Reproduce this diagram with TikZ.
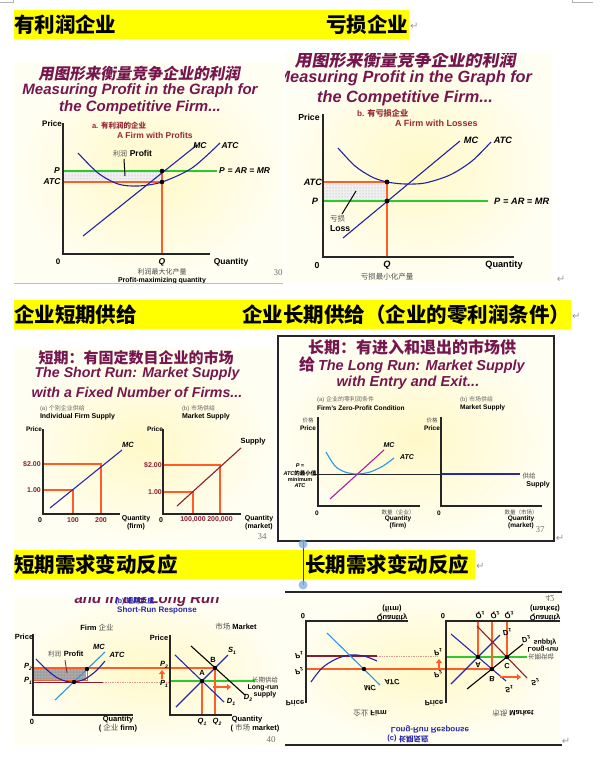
\documentclass[tikz,border=0pt]{standalone}
\usepackage{fontspec}
\setmainfont{Liberation Sans}
\newfontfamily\cjk{Noto Sans CJK SC}
\newfontfamily\cjkit[FakeSlant=0.18]{Noto Sans CJK SC}
\newfontfamily\tms{Liberation Serif}
\newfontfamily\dv{DejaVu Sans}
\usetikzlibrary{patterns,arrows.meta}
\newcommand{\fs}[1]{\fontsize{#1}{#1}\selectfont}
\newcommand{\sbx}[2]{#1\raisebox{-0.22em}{\fontsize{5}{5}\selectfont #2}}
\definecolor{hl}{RGB}{255,255,0}
\definecolor{ttl}{RGB}{118,22,78}
\definecolor{subc}{RGB}{150,42,52}
\definecolor{org}{RGB}{255,92,40}
\definecolor{grn}{RGB}{45,200,45}
\definecolor{dblue}{RGB}{35,35,165}
\definecolor{lblue}{RGB}{40,150,235}
\definecolor{dred}{RGB}{140,28,50}
\definecolor{purp}{RGB}{170,30,160}
\definecolor{bgin}{RGB}{255,249,200}
\definecolor{bgout}{RGB}{255,254,242}
\definecolor{rblue}{RGB}{40,40,175}
\definecolor{pinkd}{RGB}{225,150,150}
\tikzset{
 tx/.style={inner sep=0pt, outer sep=0pt},
 hdr/.style={tx, font=\cjk\bfseries\fs{20.5}},
 ttlA/.style={tx, text=ttl, font=\bfseries\itshape\fs{#1}},
 ttlC/.style={tx, text=ttl, font=\cjkit\bfseries\fs{#1}},
 ttlU/.style={tx, text=ttl, font=\cjk\bfseries\fs{#1}},
 lb/.style={tx, font=\bfseries\fs{#1}},
 lbi/.style={tx, font=\bfseries\itshape\fs{#1}},
 lbr/.style={tx, text=dred, font=\bfseries\fs{#1}},
 ck/.style={tx, font=\cjk\fs{#1}, text=black!70},
 ax/.style={line width=1.1pt, black!85},
 ln/.style={line width=1.1pt},
 panelbg/.style={inner color=bgin, outer color=bgout},
 vflip/.style={yscale=-1},
 pg/.style={tx, font=\tms\fs{9}, text=black!55},
 ret/.style={tx, font=\dv\fs{10}, text=black!40},
 oarrow/.style={org, line width=2.2pt, -{Triangle[length=4pt,width=6pt]}},
 lossfill/.style={pattern=dots, pattern color=gray!70},
}
\begin{document}
\begin{tikzpicture}[x=1pt,y=-1pt]
\useasboundingbox (0,0) rectangle (605,761);
\fill[white] (0,0) rectangle (605,761);
% corner marks
\draw[gray!60, line width=0.6pt] (0,2) -- (13,2) -- (13,0);
\draw[gray!60, line width=0.6pt] (572,0) -- (572,2) -- (593,2);
% ---------- headers ----------
\fill[hl] (14,10) rectangle (409,39);
\node[hdr, anchor=west] (h1a) at (14,24.5) {有利润企业};
\node[hdr, anchor=east] (h1b) at (408,24.5) {亏损企业};
\node[ret, anchor=west] (h1r) at (410,26) {↵};
\fill[hl] (14,300) rectangle (571,329);
\node[hdr, anchor=west] (h2a) at (14,314.5) {企业短期供给};
\node[hdr, anchor=east] (h2b) at (570,314.5) {企业长期供给（企业的零利润条件）};
\node[ret, anchor=west] (h2r) at (572,316) {↵};
\fill[hl] (14,550) rectangle (475,579);
\node[hdr, anchor=west] (h3a) at (14,564.5) {短期需求变动反应};
\node[hdr, anchor=west] (h3b) at (305,564.5) {长期需求变动反应};
\node[ret, anchor=west] (h3r) at (476,566) {↵};
% ---------- panel 1 ----------
\begin{scope}
\clip (14,62) rectangle (283,283);
\fill[panelbg] (14,62) rectangle (283,283);
\node[ttlC=15.5] (p1a) at (139,74) {用图形来衡量竞争企业的利润};
\node[ttlA=15] (p1b) at (140,91) {Measuring Profit in the Graph for};
\node[ttlA=15] (p1c) at (140,108) {the Competitive Firm...};
\fill[gray!12] (63,171) rectangle (162,182);
\fill[lossfill] (63,171) rectangle (162,182);
\draw[grn, ln] (63,171) -- (217,171);
\draw[org, ln] (63,182) -- (162,182);
\draw[org, ln] (162,171) -- (162,254);
\draw[dblue, ln] plot[smooth] coordinates {(78,153) (98,173) (118,184) (138,186) (162,182) (192,168) (220,143)};
\draw[dblue, ln] (83,236) -- (197,145);
\draw[ax] (63,123) -- (63,254) -- (210,254);
\fill (162,171) circle (2.3);
\fill (162,182) circle (2.3);
\draw[black, line width=1pt] (124,159) -- (125,176);
\node[lb=8] (p1pr) at (52,124) {Price};
\node[tx, text=subc, font=\bfseries\fs{7.5}, anchor=west] (p1s1) at (92,126) {a. {\cjk 有利润的企业}};
\node[tx, text=subc, font=\bfseries\fs{8.5}, anchor=west] (p1s2) at (117,135) {A Firm with Profits};
\node[lbi=8.5] (p1P) at (57,171) {P};
\node[lbi=8.5] (p1A) at (52,182) {ATC};
\node[lbi=8.5, anchor=west] (p1E) at (219,171) {P\,\,= AR = MR};
\node[lbi=8.5] (p1mc) at (200,146) {MC};
\node[lbi=8.5] (p1atc) at (230,146) {ATC};
\node[tx, anchor=west] (p1pf) at (113,154) {{\cjk\fs{7}\color{black!70}利润} {\bfseries\fs{8.5}Profit}};
\node[lb=8] (p1o) at (58,262) {0};
\node[lbi=8.5] (p1q) at (162,262) {Q};
\node[lb=8.5] (p1qt) at (231,262) {Quantity};
\node[ck=7] (p1c1) at (162,272) {利润最大化产量};
\node[lb=7] (p1c2) at (162,280.5) {Profit-maximizing quantity};
\node[pg] (p1n) at (278,273) {30};
\end{scope}
\draw[gray!50, line width=1pt] (14,283) -- (283,283);
% ---------- panel 2 ----------
\begin{scope}
\clip (285,53) rectangle (552,282);
\fill[panelbg] (285,53) rectangle (552,282);
\node[ttlC=17] (p2a) at (405,60) {用图形来衡量竞争企业的利润};
\node[ttlA=16.3, anchor=east] (p2b) at (532,78) {Measuring Profit in the Graph for};
\node[ttlA=16.3] (p2c) at (405,98) {the Competitive Firm...};
\fill[gray!12] (323,182) rectangle (387,201);
\fill[lossfill] (323,182) rectangle (387,201);
\draw[org, ln] (323,182) -- (387,182) -- (387,257);
\draw[grn, ln] (323,201) -- (488,201);
\draw[dblue, ln] plot[smooth] coordinates {(338,148) (355,166) (372,177) (387,182) (405,184) (425,183) (450,175) (472,161) (491,142)};
\draw[dblue, ln] (343,238) -- (460,141);
\draw[ax] (323,114) -- (323,257) -- (514,257);
\fill (387,182) circle (2.4);
\fill (387,201) circle (2.4);
\draw[black, line width=1pt] (356,191) -- (342,214);
\node[lb=8.7] (p2pr) at (309,117) {Price};
\node[tx, text=subc, font=\bfseries\fs{8.2}, anchor=west] (p2s1) at (357,113) {b. {\cjk 有亏损企业}};
\node[tx, text=subc, font=\bfseries\fs{9}, anchor=west] (p2s2) at (395,123) {A Firm with Losses};
\node[lbi=9.2] (p2mc) at (471,140) {MC};
\node[lbi=9.2] (p2atc) at (503,140) {ATC};
\node[lbi=9.2, anchor=east] (p2A) at (322,182) {ATC};
\node[lbi=9.2] (p2P) at (315,201) {P};
\node[lbi=9.2, anchor=west] (p2E) at (494,201) {P\,\,= AR = MR};
\node[ck=7.5, anchor=west] (p2l1) at (330,219) {亏损};
\node[lb=8.7, anchor=west] (p2l2) at (330,229) {Loss};
\node[lb=8.7] (p2o) at (317,265) {0};
\node[lbi=9.2] (p2q) at (387,265) {Q};
\node[lb=9.2] (p2qt) at (504,265) {Quantity};
\node[ck=7.5] (p2c1) at (387,277) {亏损最小化产量};
\end{scope}
\node[ret] (p2r) at (561,279) {↵};
% ---------- panel 3 ----------
\fill[panelbg] (14,348) rectangle (273,542);
\node[ttlU=15] (p3a) at (136,358) {短期：有固定数目企业的市场};
\node[ttlA=14.2] (p3b) at (137,374) {The Short Run: Market Supply};
\node[ttlA=14.2] (p3c) at (137,392) {with a Fixed Number of Firms...};
\node[tx, anchor=west, font=\fs{6}, text=black!60] (p3s1) at (40,409) {(a) {\cjk 个别企业供给}};
\node[lb=7, anchor=west] (p3s2) at (40,417) {Individual Firm Supply};
\node[tx, anchor=west, font=\fs{6}, text=black!60] (p3s3) at (182,409) {(b) {\cjk 市场供给}};
\node[lb=7, anchor=west] (p3s4) at (182,417) {Market Supply};
\draw[org, ln] (43,464) -- (101,464) -- (101,514);
\draw[org, ln] (43,490) -- (73,490) -- (73,514);
\draw[rblue, ln] (50,508) -- (122,450);
\draw[ax] (43,429) -- (43,514) -- (120,514);
\node[lb=6.5] (p3pr) at (34,429) {Price};
\node[lbr=7] (p3y2) at (32,464) {\$2.00};
\node[lbr=7] (p3y1) at (34,490) {1.00};
\node[lbi=7.5] (p3mc) at (128,445) {MC};
\node[lb=7] (p3o) at (40,520) {0};
\node[lbr=7] (p3x1) at (73,520) {100};
\node[lbr=7] (p3x2) at (101,520) {200};
\node[lb=7] (p3q1) at (136,519) {Quantity};
\node[lb=7] (p3q2) at (136,527) {(firm)};
\draw[org, ln] (163,465) -- (220,465) -- (220,514);
\draw[org, ln] (163,492) -- (193,492) -- (193,514);
\draw[dred, ln] (177,506) -- (241,448);
\draw[ax] (163,429) -- (163,514) -- (241,514);
\node[lb=6.5] (p3pr2) at (155,429) {Price};
\node[lbr=7] (p3y3) at (153,465) {\$2.00};
\node[lbr=7] (p3y4) at (155,492) {1.00};
\node[lb=7.5] (p3sup) at (253,442) {Supply};
\node[lb=7] (p3o2) at (161,520) {0};
\node[lbr=7] (p3x3) at (193,520) {100,000};
\node[lbr=7] (p3x4) at (220,520) {200,000};
\node[lb=7] (p3q3) at (259,519) {Quantity};
\node[lb=7] (p3q4) at (259,527) {(market)};
\node[pg] (p3n) at (262,537) {34};
% ---------- panel 4 ----------
\fill[panelbg] (278,336) rectangle (554,541);
\node[ttlU=16] (p4a) at (412,347) {长期：有进入和退出的市场供};
\node[tx, text=ttl] (p4b) at (412,365) {{\cjk\bfseries\fs{16}给} {\bfseries\itshape\fs{14.5}The Long Run: Market Supply}};
\node[ttlA=14.5] (p4c) at (408,383) {with Entry and Exit...};
\node[tx, anchor=west, font=\fs{6}, text=black!60] (p4s1) at (317,400) {(a) {\cjk 企业的零利润条件}};
\node[lb=6.6, anchor=west] (p4s2) at (317,408) {Firm's Zero-Profit Condition};
\node[tx, anchor=west, font=\fs{6}, text=black!60] (p4s3) at (460,400) {(b) {\cjk 市场供给}};
\node[lb=6.6, anchor=west] (p4s4) at (460,408) {Market Supply};
\draw[black!85, line width=1pt] (314,474) -- (441,474);
\draw[rblue, ln] (441,474) -- (520,474);
\draw[lblue, ln] plot[smooth] coordinates {(326,452) (335,466) (345,472) (357,474) (370,472) (383,466) (394,458)};
\draw[purp, ln] (330,499) -- (384,450);
\draw[ax] (318,417) -- (318,506) -- (420,506);
\draw[ax] (441,417) -- (441,506) -- (542,506);
\node[ck=5.5] (p4j1) at (308,420) {价格};
\node[lb=6.5] (p4p1) at (308,428) {Price};
\node[ck=5.5] (p4j2) at (432,420) {价格};
\node[lb=6.5] (p4p2) at (432,428) {Price};
\node[lbi=5.5] (p4e1) at (300,466) {P =};
\node[tx] (p4e2) at (300,473) {{\bfseries\itshape\fs{5.5}ATC}{\cjk\bfseries\fs{5.5}的最小值}};
\node[lb=5.5] (p4e3) at (300,479.5) {minimum};
\node[lbi=5.5] (p4e4) at (300,486) {ATC};
\node[lbi=7] (p4mc) at (389,445) {MC};
\node[lbi=7] (p4atc) at (407,457) {ATC};
\node[lb=6.5] (p4o1) at (317,513) {0};
\node[ck=5.5] (p4q1) at (398,512) {数量（企业）};
\node[lb=6.5] (p4q2) at (398,518.5) {Quantity};
\node[lb=6.5] (p4q3) at (398,525.5) {(firm)};
\node[ck=6.5] (p4g) at (529,476) {供给};
\node[lb=7] (p4sup) at (538,485) {Supply};
\node[lb=6.5] (p4o2) at (439,513) {0};
\node[ck=5.5] (p4q4) at (521,512) {数量（市场）};
\node[lb=6.5] (p4q5) at (521,518.5) {Quantity};
\node[lb=6.5] (p4q6) at (521,525.5) {(market)};
\node[pg] (p4n) at (540,530) {37};
\draw[black!85, line width=2pt] (278,336) rectangle (554,541);
\node[ret] (p4r) at (560,538) {↵};
% handle line
\draw[rblue, line width=0.8pt] (303,541) -- (303,585);
\fill[cyan!60!blue!50, opacity=0.8] (303,544) circle (4.5);
% ---------- panel 5 ----------
\begin{scope}
\clip (14,597) rectangle (285,744);
\fill[panelbg] (14,597) rectangle (285,744);
\node[ttlA=15, anchor=base] (p5t) at (147,603) {and in the Long Run};
\node[tx, text=rblue, font=\bfseries\fs{7}] (p5t2) at (135,601) {(b) {\cjk 短期反应}};
\node[tx, text=rblue, font=\bfseries\fs{8}] (p5t3) at (157,610) {Short-Run Response};
\node[tx, font=\bfseries\fs{7.5}] (p5f) at (97,627) {Firm {\cjk\mdseries\color{black!70}企业}};
\node[tx, font=\bfseries\fs{7.5}] (p5m) at (236,627) {{\cjk\mdseries\color{black!70}市场} Market};
% firm
\fill[gray!75] (34,669) rectangle (86,680);
\fill[pattern=dots, pattern color=white!85!gray] (34,669) rectangle (86,680);
\draw[org, line width=1pt] (33,680.5) -- (87,680.5) -- (87,668);
\draw[org, line width=1.5pt] (33,668) -- (215,668);
\draw[dred, line width=1.2pt] (33,682.5) -- (103,682.5);
\draw[pinkd, densely dotted, line width=0.7pt] (103,682) -- (170,682);
\draw[dblue, ln] plot[smooth] coordinates {(36,659) (46,669) (56,677) (65,681) (74,682) (85,679) (96,671) (105,661)};
\draw[lblue, ln] (55,700) -- (105,652);
\draw[ax] (33,634) -- (33,715) -- (133,715);
\fill (74,682) circle (2.2);
\fill (87,669) circle (2.2);
\draw[dred, line width=0.8pt] (65,660) -- (67,673);
\node[tx, anchor=west] (p5pf) at (48,654) {{\cjk\fs{6.5}\color{black!70}利润} {\bfseries\fs{7.5}Profit}};
\node[lb=7.5] (p5pr) at (24,637) {Price};
\node[lbi=7.5] (p5p2) at (28,667) {\sbx{P}{2}};
\node[lbi=7.5] (p5p1) at (28,681) {\sbx{P}{1}};
\node[lbi=7.5] (p5mc) at (99,647) {MC};
\node[lbi=7.5] (p5atc) at (117,655) {ATC};
\node[lb=7.5] (p5o) at (32,722) {0};
\node[lb=7.5] (p5q1) at (118,720) {Quantity};
\node[tx, font=\bfseries\fs{7.5}] (p5q2) at (118,728) {( {\cjk\mdseries\color{black!70}企业} firm)};
% market
\draw[grn, ln] (170,681) -- (255,681);
\draw[org, ln] (202,681) -- (202,715);
\draw[org, ln] (215,668) -- (215,715);
\draw[rblue, ln] (175,655) -- (224,702);
\draw[black, ln] (191,646) -- (245,695);
\draw[rblue, ln] (176,707) -- (228,655);
\draw[ax] (170,635) -- (170,715) -- (232,715);
\fill (202,681) circle (2.2);
\fill (215,668) circle (2.2);
\draw[oarrow] (162,679) -- (162,670);
\draw[oarrow] (213,687) -- (231,687);
\node[lb=7.5] (p5pr2) at (159,638) {Price};
\node[lbi=7.5] (p5mp2) at (164,665) {\sbx{P}{2}};
\node[lbi=7.5] (p5mp1) at (164,684) {\sbx{P}{1}};
\node[lb=7.5] (p5A) at (202,673) {A};
\node[lb=7.5] (p5B) at (213,660) {B};
\node[lbi=7.5] (p5S1) at (232,651) {\sbx{S}{1}};
\node[lbi=7.5] (p5D1) at (231,702) {\sbx{D}{1}};
\node[lbi=7.5] (p5D2) at (248,698) {\sbx{D}{2}};
\node[lbi=7.5] (p5Q1) at (202,722) {\sbx{Q}{1}};
\node[lbi=7.5] (p5Q2) at (217,722) {\sbx{Q}{2}};
\node[ck=6.5] (p5l1) at (265,680) {长期供给};
\node[lb=7] (p5l2) at (263,688) {Long-run};
\node[lb=7] (p5l3) at (265,695) {supply};
\node[lb=7.5] (p5q3) at (247,720) {Quantity};
\node[tx, font=\bfseries\fs{7.5}] (p5q4) at (255,728) {( {\cjk\mdseries\color{black!70}市场} market)};
\node[pg] (p5n) at (271,740) {40};
\end{scope}
% ---------- panel 6 (mirrored) ----------
\begin{scope}
\clip (285,592) rectangle (562,745);
\fill[panelbg] (285,593) rectangle (560,744);
\node[pg, vflip] (p6n) at (550,598) {42};
% firm
\draw[dred, line width=1.2pt] (306,656) -- (377,656);
\draw[pinkd, densely dotted, line width=0.7pt] (377,656) -- (437,656);
\draw[org, line width=1.4pt] (306,669) -- (492,669);
\draw[dblue, ln] plot[smooth] coordinates {(311,682) (322,668) (336,659) (350,655) (364,656) (377,661)};
\draw[lblue, ln] (327,633) -- (380,685);
\draw[ax] (306,703) -- (306,621) -- (408,621);
\fill (364,669) circle (2.2);
\node[lb=7.5, vflip] (p6o) at (303,616) {0};
\node[lb=7.5, vflip] (p6q1) at (392,617) {Quantity};
\node[lb=7.5, vflip] (p6q2) at (392,608) {(firm)};
\node[lb=7.5, vflip] (p6pr) at (295,703) {Price};
\node[lbi=7.5, vflip] (p6p1) at (299,655) {\sbx{P}{1}};
\node[lbi=7.5, vflip] (p6p2) at (299,671) {\sbx{P}{2}};
\node[lbi=7.5, vflip] (p6mc) at (370,688) {MC};
\node[lbi=7.5, vflip] (p6atc) at (392,682) {ATC};
\node[tx, font=\bfseries\fs{7.5}, vflip] (p6f) at (370,713) {{\cjk\mdseries\color{black!70}企业} Firm};
\node[tx, text=rblue, font=\bfseries\fs{8}, vflip] (p6t1) at (430,729) {Long-Run Response};
\node[tx, text=rblue, font=\bfseries\fs{7.5}, vflip] (p6t2) at (408,739) {(c) {\cjk 长期反应}};
% market
\draw[grn, ln] (446,657) -- (527,657);
\draw[org, ln] (478,621) -- (478,657);
\draw[org, ln] (492,621) -- (492,669);
\draw[org, ln] (507,621) -- (507,657);
\draw[rblue, ln] (451,634) -- (506,681);
\draw[rblue, ln] (500,635) -- (451,684);
\draw[black, ln] (467,689) -- (523,644);
\draw[dred, ln] (477,626) -- (527,678);
\draw[ax] (446,703) -- (446,621) -- (560,621);
\fill (478,657) circle (2.2);
\fill (492,669) circle (2.2);
\fill (507,657) circle (2.2);
\draw[oarrow] (439,668) -- (439,659);
\draw[oarrow] (500,677) -- (521,677);
\node[lb=7.5, vflip] (p6o2) at (443,616) {0};
\node[lb=7.5, vflip] (p6q3) at (545,617) {Quantity};
\node[lb=7.5, vflip] (p6q4) at (545,608) {(market)};
\node[lb=7.5, vflip] (p6pr2) at (434,703) {Price};
\node[lbi=7.5, vflip] (p6mp1) at (438,652) {\sbx{P}{1}};
\node[lbi=7.5, vflip] (p6mp2) at (438,674) {\sbx{P}{2}};
\node[lbi=7.5, vflip] (p6Q1) at (480,615) {\sbx{Q}{1}};
\node[lbi=7.5, vflip] (p6Q2) at (495,615) {\sbx{Q}{2}};
\node[lbi=7.5, vflip] (p6Q3) at (509,615) {\sbx{Q}{3}};
\node[lb=7.5, vflip] (p6A) at (478,665) {A};
\node[lb=7.5, vflip] (p6B) at (492,679) {B};
\node[lb=7.5, vflip] (p6C) at (507,666) {C};
\node[lbi=7.5, vflip] (p6D1) at (507,632) {\sbx{D}{1}};
\node[lbi=7.5, vflip] (p6S1) at (509,689) {\sbx{S}{1}};
\node[lbi=7.5, vflip] (p6S2) at (535,682) {\sbx{S}{2}};
\node[lbi=7.5, vflip] (p6D2) at (526,639) {\sbx{D}{2}};
\node[ck=6.5, vflip] (p6l1) at (541,657) {长期供给};
\node[lb=7, vflip] (p6l2) at (543,649) {Long-run};
\node[lb=7, vflip] (p6l3) at (545,642) {supply};
\node[tx, font=\bfseries\fs{7.5}, vflip] (p6m) at (513,713) {{\cjk\mdseries\color{black!70}市场} Market};
\end{scope}
\draw[black!85, line width=1.4pt] (285,592) -- (562,592);
\draw[black!85, line width=1.4pt] (285,745) -- (562,745);
\fill[cyan!60!blue!50, opacity=0.8] (303,585) circle (4.5);
\node[ret] (p6r) at (566,741) {↵};
\end{tikzpicture}
\end{document}
